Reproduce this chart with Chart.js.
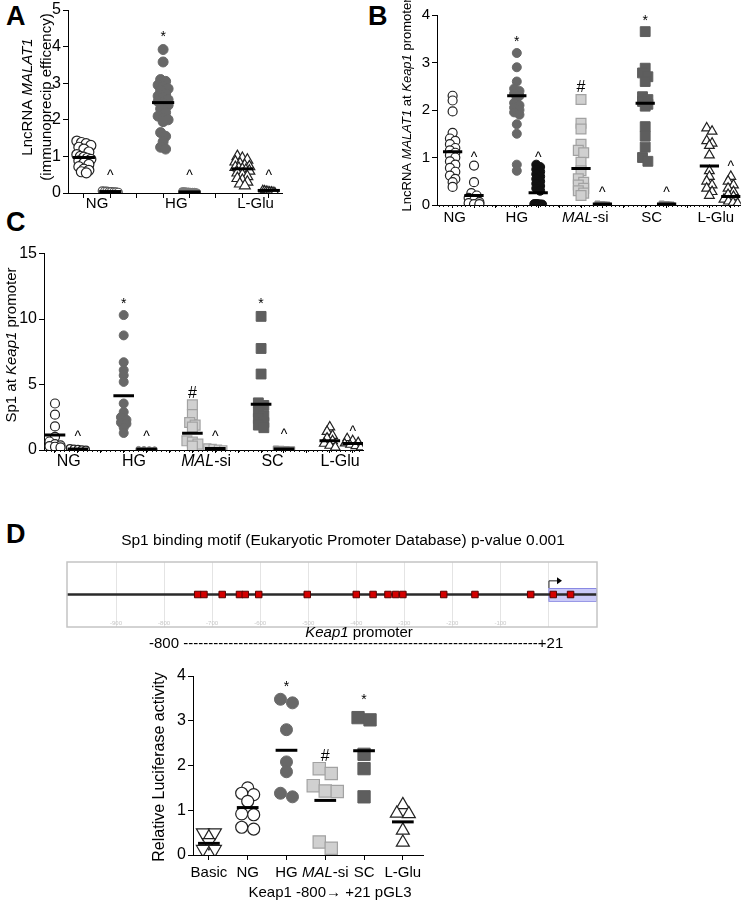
<!DOCTYPE html>
<html>
<head>
<meta charset="utf-8">
<script src="https://cdn.jsdelivr.net/npm/chart.js@4.4.0/dist/chart.umd.min.js"></script>
<style>
body { margin: 0; background: #fff; width: 749px; height: 905px; position: relative; overflow: hidden; }
canvas { position: absolute; }
.letter { position: absolute; font: bold 27px "Liberation Sans", Arial, sans-serif; line-height: 27px; color: #000; }
</style>
</head>
<body>
<div class="letter" style="left:6px;top:3px">A</div>
<div class="letter" style="left:368px;top:3px">B</div>
<div class="letter" style="left:6px;top:209px">C</div>
<div class="letter" style="left:6px;top:521px">D</div>

<canvas id="chartA" width="300" height="235" style="left:0;top:0"></canvas>
<canvas id="chartB" width="379" height="240" style="left:370px;top:0"></canvas>
<canvas id="chartC" width="380" height="240" style="left:0;top:240px"></canvas>
<canvas id="chartMotif" width="600" height="135" style="left:40px;top:520px"></canvas>
<canvas id="chartD" width="300" height="245" style="left:140px;top:660px"></canvas>

<script>
// ---- Panel A: LncRNA MALAT1 immunoprecipitation ----
const groupsA = ['NG', 'HG', 'L-Glu'];
const aNG = [1.42, 1.38, 1.35, 1.3, 1.25, 1.2, 1.12, 1.05, 1.0, 0.98, 0.95, 0.92, 0.88, 0.82, 0.78, 0.72, 0.65, 0.62, 0.58, 0.55];
const aNGigg = [0.06, 0.05, 0.05, 0.04, 0.04, 0.03, 0.03, 0.02];
const aHG = [3.92, 3.58, 3.1, 3.05, 2.95, 2.9, 2.85, 2.8, 2.7, 2.65, 2.6, 2.55, 2.5, 2.45, 2.4, 2.3, 2.2, 2.1, 2.05, 2.0, 1.95, 1.65, 1.55, 1.4, 1.25, 1.2];
const aHGigg = [0.04, 0.04, 0.03, 0.03, 0.02, 0.02, 0.02, 0.01];
const aLGlu = [1.0, 0.95, 0.9, 0.85, 0.8, 0.75, 0.72, 0.7, 0.68, 0.65, 0.62, 0.6, 0.55, 0.5, 0.45, 0.4, 0.35, 0.3, 0.25, 0.2];
const aLGluIgg = [0.09, 0.08, 0.07, 0.06, 0.05, 0.05, 0.04, 0.03];
const meansA = [0.97, 0.04, 2.47, 0.03, 0.66, 0.07];
const yTicksA = [0, 1, 2, 3, 4, 5];

// ---- Panel B: LncRNA MALAT1 at Keap1 promoter ----
const groupsB = ['NG', 'HG', '_MAL_-si', 'SC', 'L-Glu'];
const bNG = [2.3, 2.2, 1.97, 1.52, 1.4, 1.35, 1.28, 1.2, 1.15, 1.1, 1.05, 1.0, 0.92, 0.85, 0.78, 0.7, 0.62, 0.55, 0.48, 0.38];
const bNGigg = [0.83, 0.48, 0.25, 0.2, 0.15, 0.1, 0.06, 0.04, 0.02, 0.02];
const bHG = [3.2, 2.9, 2.6, 2.45, 2.4, 2.35, 2.3, 2.25, 2.15, 2.1, 2.05, 2.0, 1.95, 1.9, 1.7, 1.5, 0.85, 0.72];
const bHGigg = [0.85, 0.8, 0.75, 0.7, 0.65, 0.6, 0.55, 0.5, 0.45, 0.4, 0.35, 0.3, 0.02, 0.02, 0.02, 0.01, 0.01, 0.01];
const bMAL = [2.22, 1.72, 1.6, 1.28, 1.15, 1.1, 0.9, 0.72, 0.55, 0.48, 0.42, 0.35, 0.3, 0.25, 0.2];
const bMALigg = [0.03, 0.02, 0.02, 0.01, 0.01];
const bSC = [3.65, 2.88, 2.78, 2.7, 2.6, 2.28, 2.22, 2.18, 2.12, 2.08, 1.65, 1.45, 1.22, 1.0, 0.92];
const bSCigg = [0.03, 0.02, 0.02, 0.01, 0.01];
const bLGlu = [1.62, 1.55, 1.35, 1.3, 1.25, 1.05, 0.72, 0.6, 0.5, 0.42, 0.35, 0.28, 0.2];
const bLGluIgg = [0.6, 0.5, 0.42, 0.35, 0.28, 0.22, 0.18, 0.12, 0.08, 0.05, 0.03];
const meansB = [1.12, 0.2, 2.3, 0.26, 0.77, 0.02, 2.14, 0.02, 0.82, 0.18];
const yTicksB = [0, 1, 2, 3, 4];

// ---- Panel C: Sp1 at Keap1 promoter ----
const groupsC = ['NG', 'HG', '_MAL_-si', 'SC', 'L-Glu'];
const cNG = [3.55, 2.7, 1.8, 1.0, 0.65, 0.45, 0.35, 0.3, 0.25, 0.2];
const cNGigg = [0.15, 0.1, 0.08, 0.05, 0.03];
const cHG = [10.3, 8.75, 6.7, 6.1, 5.7, 5.2, 3.55, 2.9, 2.5, 2.3, 2.1, 2.0, 1.7, 1.3];
const cHGigg = [0.06, 0.05, 0.04, 0.03];
const cMAL = [3.45, 2.7, 2.1, 1.9, 1.75, 0.7, 0.6, 0.45, 0.3];
const cMALigg = [0.2, 0.15, 0.1, 0.05];
const cSC = [10.2, 7.75, 5.8, 3.6, 3.4, 2.9, 2.6, 2.4, 2.1, 1.9, 1.7];
const cSCigg = [0.1, 0.08, 0.06, 0.04];
const cLGlu = [1.75, 1.4, 1.1, 0.9, 0.7, 0.5, 0.35, 0.2];
const cLGluIgg = [0.9, 0.75, 0.6, 0.5, 0.4, 0.3, 0.2];
const meansC = [1.15, 0.08, 4.15, 0.05, 1.27, 0.12, 3.49, 0.08, 0.71, 0.5];
const yTicksC = [0, 5, 10, 15];

// ---- Panel D: Sp1 motifs and luciferase ----
const motifSites = [-730, -717, -679, -643, -631, -603, -502, -400, -365, -334, -318, -303, -218, -153, -37, 10, 46];
const motifGrid = [-900, -800, -700, -600, -500, -400, -300, -200, -100, 0];
const groupsD = ['Basic', 'NG', 'HG', '_MAL_-si', 'SC', 'L-Glu'];
const dBasic = [0.5, 0.5, 0.28, 0.13, 0.13];
const dNG = [1.5, 1.38, 1.35, 1.2, 0.92, 0.9, 0.62, 0.58];
const dHG = [3.48, 3.4, 2.8, 2.08, 1.86, 1.38, 1.3];
const dMAL = [1.93, 1.82, 1.55, 1.43, 1.42, 0.29, 0.15];
const dSC = [3.07, 3.02, 2.25, 1.93, 1.3];
const dLGlu = [1.12, 0.93, 0.92, 0.55, 0.28];
const meansD = [0.26, 1.06, 2.34, 1.22, 2.33, 0.74];
const yTicksD = [0, 1, 2, 3, 4];

const FAMILY = '"Liberation Sans", Arial, Helvetica, sans-serif';

// marker looks
const STYLE = {
    open:    { ps: 'circle', bg: '#fff', bd: '#222', bw: 1.2, k: 1 },
    openG:   { ps: 'circle', bg: '#fff', bd: '#555', bw: 1.2, k: 0.8 },
    dark:    { ps: 'circle', bg: '#686868', bd: '#686868', bw: 1, k: 1 },
    grayC:   { ps: 'circle', bg: '#7c7c7c', bd: '#7c7c7c', bw: 1, k: 0.8 },
    black:   { ps: 'circle', bg: '#111', bd: '#111', bw: 1, k: 1 },
    lightSq: { ps: 'rect', bg: '#d0d0d0', bd: '#a2a2a2', bw: 1.2, k: 1.45 },
    darkSq:  { ps: 'rect', bg: '#5e5e5e', bd: '#5e5e5e', bw: 1, k: 1.45 },
    graySq:  { ps: 'rect', bg: '#8a8a8a', bd: '#8a8a8a', bw: 1, k: 1.2 },
    tri:     { ps: 'triangle', bg: '#fff', bd: '#222', bw: 1.2, k: 1.25 },
    triDown: { ps: 'triangle', bg: '#fff', bd: '#222', bw: 1.2, k: 1.25, rot: 180 }
};

// rows of points centred on the column, like a prism scatter
function swarm(vals, pxY, rowH, step, maxW) {
    const order = vals.map((v, i) => i).sort((a, b) => vals[b] - vals[a]);
    const off = new Array(vals.length).fill(0);
    let row = [];
    const flush = () => {
        const n = row.length;
        let s = step;
        if (n > 1 && (n - 1) * s > maxW) s = maxW / (n - 1);
        row.forEach((k, j) => { off[k] = (j - (n - 1) / 2) * s; });
        row = [];
    };
    for (const k of order) {
        if (row.length && (vals[row[0]] - vals[k]) * pxY > rowH) flush();
        row.push(k);
    }
    flush();
    return off;
}

function drawRich(ctx, text, x, y, size, rot, align) {
    const parts = text.split('_').map((t, i) => [t, i % 2 === 1]);
    const fontOf = it => (it ? 'italic ' : '') + size + 'px ' + FAMILY;
    let w = 0;
    parts.forEach(([t, it]) => { ctx.font = fontOf(it); w += ctx.measureText(t).width; });
    ctx.save();
    ctx.translate(x, y);
    if (rot) ctx.rotate(-Math.PI / 2);
    ctx.fillStyle = '#000';
    ctx.textBaseline = 'middle';
    ctx.textAlign = 'left';
    let cx = align === 'left' ? 0 : -w / 2;
    parts.forEach(([t, it]) => { ctx.font = fontOf(it); ctx.fillText(t, cx, 0); cx += ctx.measureText(t).width; });
    ctx.restore();
}

function makePanel(id, g, p) {
    const pxX = (g.r - g.l) / (p.xMax - p.xMin);
    const pxY = (g.b - g.t) / (p.yMax - p.yMin);
    const datasets = [];
    // mean bars first so they sit on top
    p.cols.forEach((c, i) => {
        datasets.push({
            data: [{ x: c.pos - p.half, y: p.means[i] }, { x: c.pos + p.half, y: p.means[i] }],
            showLine: true, borderColor: '#000', borderWidth: 3, pointRadius: 0, order: 0
        });
    });
    p.cols.forEach(c => {
        const st = STYLE[c.st];
        const r = (c.r || p.r) * st.k;
        const off = swarm(c.vals, pxY, c.rowH || p.rowH, c.step || p.step, c.maxW || p.maxW);
        datasets.push({
            data: c.vals.map((v, i) => ({ x: c.pos + off[i] / pxX, y: v })),
            pointStyle: st.ps, pointRadius: r, pointRotation: st.rot || 0,
            backgroundColor: st.bg, borderColor: st.bd, pointBorderWidth: st.bw,
            order: 1
        });
    });

    const deco = {
        id: 'deco' + id,
        afterDatasetsDraw(chart) {
            const ctx = chart.ctx, xs = chart.scales.x, ys = chart.scales.y;
            ctx.save();
            ctx.fillStyle = '#000';
            ctx.textAlign = 'center';
            ctx.textBaseline = 'middle';
            p.marks.forEach(([pos, v, t, size]) => {
                ctx.font = size + 'px ' + FAMILY;
                ctx.fillText(t, xs.getPixelForValue(pos), ys.getPixelForValue(v));
            });
            ctx.restore();
        },
        afterDraw(chart) {
            const ctx = chart.ctx, xs = chart.scales.x, a = chart.chartArea;
            if (p.dotted) {
                ctx.save();
                ctx.fillStyle = '#111';
                for (let x = a.left + 2; x < a.right; x += p.dotted) ctx.fillRect(Math.round(x), a.bottom, 1, 2);
                ctx.restore();
            }
            p.labels.forEach(([pos, t]) => drawRich(ctx, t, xs.getPixelForValue(pos), a.bottom + p.labelDy, p.labelSize, false));
            p.titles.forEach(([t, x, y, size, rot]) => drawRich(ctx, t, x, y, size, rot));
        }
    };

    return new Chart(document.getElementById(id), {
        type: 'scatter',
        data: { datasets },
        options: {
            responsive: false,
            animation: false,
            events: [],
            layout: { padding: { left: 0, top: g.t, right: g.w - g.r, bottom: 0 } },
            plugins: { legend: { display: false }, tooltip: { enabled: false } },
            scales: {
                x: {
                    type: 'linear', min: p.xMin, max: p.xMax,
                    afterBuildTicks: s => { s.ticks = p.xTicks.map(v => ({ value: v })); },
                    afterFit: s => { s.height = g.h - g.b; },
                    ticks: { callback: () => '' },
                    grid: { drawOnChartArea: false, drawTicks: true, tickLength: p.xTickLen, color: '#000', lineWidth: 1 },
                    border: { display: true, color: '#000', width: 1 }
                },
                y: {
                    type: 'linear', min: p.yMin, max: p.yMax,
                    afterBuildTicks: s => { s.ticks = p.yTicks.map(v => ({ value: v })); },
                    afterFit: s => { s.width = g.l; },
                    ticks: { color: '#000', padding: 2, font: { size: p.tickSize, family: FAMILY, lineHeight: 1 } },
                    grid: { drawOnChartArea: false, drawTicks: true, tickLength: 5, color: '#000', lineWidth: 1 },
                    border: { display: true, color: '#000', width: 1 }
                }
            }
        },
        plugins: [deco]
    });
}

// ---------- A ----------
makePanel('chartA', { w: 300, h: 235, l: 68, t: 7, r: 282, b: 193 }, {
    xMin: 0.4, xMax: 8.5, yMin: 0, yMax: 5, yTicks: yTicksA, xTicks: [1, 2, 3, 4, 5, 6, 7, 8], xTickLen: 5,
    r: 5, rowH: 5, step: 5, maxW: 14, half: 0.42, tickSize: 16,
    cols: [
        { pos: 1, vals: aNG, st: 'open' },
        { pos: 2, vals: aNGigg, st: 'openG', maxW: 16 },
        { pos: 4, vals: aHG, st: 'dark' },
        { pos: 5, vals: aHGigg, st: 'grayC', maxW: 14 },
        { pos: 7, vals: aLGlu, st: 'tri' },
        { pos: 8, vals: aLGluIgg, st: 'tri', r: 3.6, maxW: 12 }
    ],
    means: meansA,
    marks: [[4, 4.27, '*', 14], [2, 0.47, '^', 14], [5, 0.47, '^', 14], [8, 0.47, '^', 14]],
    labels: [[1.5, groupsA[0]], [4.5, groupsA[1]], [7.5, groupsA[2]]], labelDy: 11, labelSize: 15,
    titles: [['LncRNA _MALAT1_', 28, 97, 15, true], ['(immunoprecip efficency)', 47, 97, 15, true]]
});

// ---------- B ----------
makePanel('chartB', { w: 379, h: 240, l: 67, t: 15, r: 378, b: 205 }, {
    xMin: 0.27, xMax: 14.47, yMin: 0, yMax: 4, yTicks: yTicksB, xTicks: [1, 2, 3, 4, 5, 6, 7, 8, 9, 10, 11, 12, 13, 14], xTickLen: 3,
    r: 4.5, rowH: 4.5, step: 5.5, maxW: 14, half: 0.45, dotted: 4.4, tickSize: 15,
    cols: [
        { pos: 1, vals: bNG, st: 'open' },
        { pos: 2, vals: bNGigg, st: 'open' },
        { pos: 4, vals: bHG, st: 'dark' },
        { pos: 5, vals: bHGigg, st: 'black', step: 4, maxW: 8 },
        { pos: 7, vals: bMAL, st: 'lightSq', r: 4.8 },
        { pos: 8, vals: bMALigg, st: 'graySq', r: 3, maxW: 10 },
        { pos: 10, vals: bSC, st: 'darkSq', r: 4.8 },
        { pos: 11, vals: bSCigg, st: 'graySq', r: 3, maxW: 10 },
        { pos: 13, vals: bLGlu, st: 'tri' },
        { pos: 14, vals: bLGluIgg, st: 'tri' }
    ],
    means: meansB,
    marks: [[4, 3.42, '*', 14], [10, 3.88, '*', 14], [7, 2.48, '#', 16],
            [2, 0.98, '^', 14], [5, 0.98, '^', 14], [8, 0.24, '^', 14], [11, 0.24, '^', 14], [14, 0.8, '^', 14]],
    labels: [[1.1, groupsB[0]], [4.0, groupsB[1]], [7.2, groupsB[2]], [10.3, groupsB[3]], [13.3, groupsB[4]]],
    labelDy: 13, labelSize: 15,
    titles: [['LncRNA _MALAT1_ at _Keap1_ promoter', 37, 105, 13, true]]
});

// ---------- C ----------
makePanel('chartC', { w: 380, h: 240, l: 44, t: 13.5, r: 363, b: 210 }, {
    xMin: 0.52, xMax: 14.45, yMin: 0, yMax: 15, yTicks: yTicksC, xTicks: [1, 2, 3, 4, 5, 6, 7, 8, 9, 10, 11, 12, 13, 14], xTickLen: 3,
    r: 4.5, rowH: 4.5, step: 5.5, maxW: 16, half: 0.45, dotted: 4.6, tickSize: 16,
    cols: [
        { pos: 1, vals: cNG, st: 'open' },
        { pos: 2, vals: cNGigg, st: 'open', r: 3.5 },
        { pos: 4, vals: cHG, st: 'dark' },
        { pos: 5, vals: cHGigg, st: 'grayC', r: 3.5 },
        { pos: 7, vals: cMAL, st: 'lightSq', r: 4.8 },
        { pos: 8, vals: cMALigg, st: 'lightSq', r: 3.5 },
        { pos: 10, vals: cSC, st: 'darkSq', r: 4.8 },
        { pos: 11, vals: cSCigg, st: 'graySq', r: 3.2 },
        { pos: 13, vals: cLGlu, st: 'tri' },
        { pos: 14, vals: cLGluIgg, st: 'tri', r: 4 }
    ],
    means: meansC,
    marks: [[4, 11.1, '*', 14], [10, 11.1, '*', 14], [7, 4.3, '#', 16],
            [2, 1.0, '^', 14], [5, 1.0, '^', 14], [8, 1.0, '^', 14], [11, 1.15, '^', 14], [14, 1.35, '^', 14]],
    labels: [[1.6, groupsC[0]], [4.45, groupsC[1]], [7.6, groupsC[2]], [10.5, groupsC[3]], [13.45, groupsC[4]]],
    labelDy: 12, labelSize: 16,
    titles: [['Sp1 at _Keap1_ promoter', 12, 105, 15, true]]
});

// ---------- D, lower: luciferase ----------
makePanel('chartD', { w: 300, h: 245, l: 53, t: 16, r: 283, b: 195 }, {
    xMin: -0.41, xMax: 5.52, yMin: 0, yMax: 4, yTicks: yTicksD, xTicks: [0, 1, 2, 3, 4, 5], xTickLen: 5,
    r: 6, rowH: 5, step: 12, maxW: 24, half: 0.28, tickSize: 16,
    cols: [
        { pos: 0, vals: dBasic, st: 'triDown' },
        { pos: 1, vals: dNG, st: 'open' },
        { pos: 2, vals: dHG, st: 'dark' },
        { pos: 3, vals: dMAL, st: 'lightSq', rowH: 7 },
        { pos: 4, vals: dSC, st: 'darkSq' },
        { pos: 5, vals: dLGlu, st: 'tri' }
    ],
    means: meansD,
    marks: [[2, 3.76, '*', 14], [4, 3.46, '*', 14], [3, 2.2, '#', 16]],
    labels: groupsD.map((t, i) => [i, t]), labelDy: 18, labelSize: 15,
    titles: [['Relative Luciferase activity', 20, 107, 16, true], ['Keap1 -800\u2192 +21 pGL3', 190, 233, 15, false]]
});

// ---------- D, upper: Sp1 binding motif map ----------
const motifDeco = {
    id: 'motifDeco',
    beforeDatasetsDraw(chart) {
        const ctx = chart.ctx, xs = chart.scales.x, ys = chart.scales.y, a = chart.chartArea;
        const x0 = xs.getPixelForValue(0), y0 = ys.getPixelForValue(0.2), y1 = ys.getPixelForValue(-0.2);
        ctx.save();
        ctx.fillStyle = 'rgba(128,128,235,0.42)';
        ctx.fillRect(x0, y0, a.right - x0, y1 - y0);
        ctx.strokeStyle = 'rgba(110,110,220,0.7)';
        ctx.lineWidth = 1;
        ctx.strokeRect(x0 + 0.5, y0 + 0.5, a.right - x0 - 1, y1 - y0);
        ctx.restore();
    },
    afterDatasetsDraw(chart) {
        const ctx = chart.ctx, xs = chart.scales.x, ys = chart.scales.y, a = chart.chartArea;
        // transcription start arrow
        const x0 = xs.getPixelForValue(0), xe = xs.getPixelForValue(24);
        const yb = ys.getPixelForValue(0.2), yt = ys.getPixelForValue(0.42);
        ctx.save();
        ctx.strokeStyle = '#222';
        ctx.lineWidth = 1;
        ctx.beginPath();
        ctx.moveTo(x0 + 0.5, yb);
        ctx.lineTo(x0 + 0.5, yt);
        ctx.lineTo(xe - 2, yt);
        ctx.stroke();
        ctx.fillStyle = '#000';
        ctx.beginPath();
        ctx.moveTo(xe + 2, yt);
        ctx.lineTo(xe - 3, yt - 3.5);
        ctx.lineTo(xe - 3, yt + 3.5);
        ctx.closePath();
        ctx.fill();
        // box outline
        ctx.strokeStyle = '#c4c4c4';
        ctx.lineWidth = 1.5;
        ctx.strokeRect(a.left, a.top, a.right - a.left, a.bottom - a.top);
        // faint coordinate labels
        ctx.fillStyle = '#c8c8c8';
        ctx.font = '6px ' + FAMILY;
        ctx.textAlign = 'center';
        ctx.textBaseline = 'middle';
        motifGrid.filter(v => v < 0).forEach(v => ctx.fillText(String(v), xs.getPixelForValue(v), a.bottom - 4));
        ctx.restore();
    },
    afterDraw(chart) {
        const ctx = chart.ctx;
        drawRich(ctx, 'Sp1 binding motif (Eukaryotic Promoter Database) p-value 0.001', 303, 21, 15.5, false);
        drawRich(ctx, '_Keap1_ promoter', 319, 113, 15, false);
        // -800 ---- +21 line
        ctx.save();
        ctx.font = '15px ' + FAMILY;
        ctx.fillStyle = '#000';
        ctx.textBaseline = 'middle';
        const left = 109, right = 528;
        const wl = ctx.measureText('-800 ').width, wr = ctx.measureText('+21').width, wd = ctx.measureText('-').width;
        const n = Math.floor((right - left - wl - wr) / wd);
        ctx.textAlign = 'left';
        ctx.fillText('-800 ' + '-'.repeat(n) + '+21', left, 124);
        ctx.restore();
    }
};

new Chart(document.getElementById('chartMotif'), {
    type: 'scatter',
    data: {
        datasets: [
            { data: motifSites.map(x => ({ x, y: 0 })), pointStyle: 'rect', pointRadius: 4.6,
              backgroundColor: '#d40000', borderColor: '#5a0000', pointBorderWidth: 1, order: 0 },
            { data: [{ x: -1002, y: 0 }, { x: 101, y: 0 }], showLine: true, borderColor: '#2a2a2a',
              borderWidth: 2.5, pointRadius: 0, order: 1 }
        ]
    },
    options: {
        responsive: false,
        animation: false,
        events: [],
        layout: { padding: { left: 27, top: 42, right: 43, bottom: 0 } },
        plugins: { legend: { display: false }, tooltip: { enabled: false } },
        scales: {
            x: {
                type: 'linear', min: -1002, max: 101,
                afterBuildTicks: s => { s.ticks = motifGrid.map(v => ({ value: v })); },
                afterFit: s => { s.height = 28; },
                ticks: { display: false },
                grid: { drawTicks: false, color: '#e4e4e4', lineWidth: 1 },
                border: { display: false }
            },
            y: { type: 'linear', min: -1, max: 1, display: false }
        }
    },
    plugins: [motifDeco]
});
</script>
</body>
</html>
